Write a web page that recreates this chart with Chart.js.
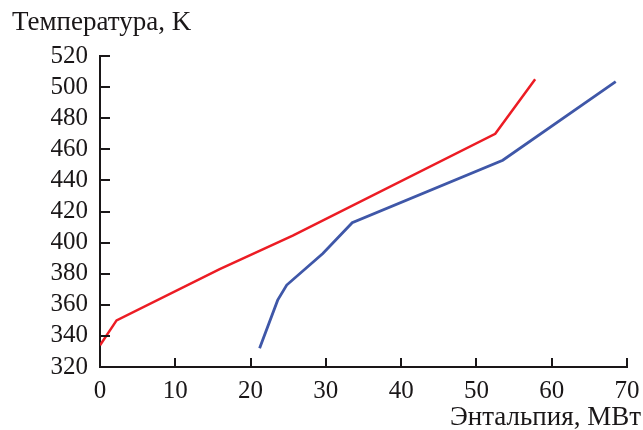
<!DOCTYPE html>
<html>
<head>
<meta charset="utf-8">
<script src="https://cdn.jsdelivr.net/npm/chart.js@4/dist/chart.umd.min.js"></script>
<style>
  html, body { margin: 0; padding: 0; background: #fff; }
  #wrap { width: 643px; height: 430px; }
</style>
</head>
<body>
<div id="wrap"><canvas id="chart" width="643" height="430"></canvas></div>
<script>
const redH = [0, 2.2, 15.9, 25.6, 52.5, 57.8];
const redT = [334, 350, 383, 404.5, 470, 505];
const blueH = [21.2, 23.6, 24.8, 29.6, 33.5, 53.5, 68.5];
const blueT = [332, 363, 372.7, 393, 412.8, 453, 503.5];
const xTicks = [0, 10, 20, 30, 40, 50, 60, 70];
const yTicks = [320, 340, 360, 380, 400, 420, 440, 460, 480, 500, 520];
const yTitle = "Температура, K";
const xTitle = "Энтальпия, МВт";

const FONT = "'Liberation Serif', 'Times New Roman', serif";
Chart.defaults.font.family = FONT;
Chart.defaults.font.size = 25;
Chart.defaults.color = "#1a1718";

function toPoints(xs, ys) {
    return xs.map((x, i) => ({ x: x, y: ys[i] }));
}

// ticks pointing into the plot area, plus the two axis titles
const innerTicks = {
    id: "innerTicks",
    afterDraw(chart) {
        const ctx = chart.ctx;
        const area = chart.chartArea;
        const xs = chart.scales.x;
        const ys = chart.scales.y;
        ctx.save();
        ctx.strokeStyle = "#1a1718";
        ctx.lineWidth = 2;
        ctx.beginPath();
        xTicks.forEach(v => {
            const px = Math.round(xs.getPixelForValue(v));
            ctx.moveTo(px, area.bottom);
            ctx.lineTo(px, area.bottom - 9);
        });
        yTicks.forEach(v => {
            const py = Math.round(ys.getPixelForValue(v));
            ctx.moveTo(area.left, py);
            ctx.lineTo(area.left + 10, py);
        });
        ctx.stroke();

        ctx.fillStyle = "#1a1718";
        ctx.font = "27px " + FONT;
        ctx.textBaseline = "alphabetic";
        ctx.textAlign = "left";
        ctx.fillText(yTitle, 12, 30);
        ctx.textAlign = "right";
        ctx.fillText(xTitle, 641, 425);
        ctx.restore();
    }
};

new Chart(document.getElementById("chart"), {
    type: "line",
    data: {
        datasets: [
            {
                data: toPoints(redH, redT),
                borderColor: "#ec1c24",
                borderWidth: 2.5,
                pointRadius: 0,
                tension: 0
            },
            {
                data: toPoints(blueH, blueT),
                borderColor: "#3f57a8",
                borderWidth: 2.8,
                pointRadius: 0,
                tension: 0
            }
        ]
    },
    options: {
        responsive: false,
        animation: false,
        layout: { padding: { top: 56, right: 16, left: 0, bottom: 0 } },
        plugins: {
            legend: { display: false },
            tooltip: { enabled: false }
        },
        scales: {
            x: {
                type: "linear",
                min: 0,
                max: 70,
                afterFit: s => {
                    s.height = 63;
                    s.paddingLeft = 0;
                    s.paddingRight = 0;
                },
                afterBuildTicks: s => { s.ticks = xTicks.map(v => ({ value: v })); },
                grid: { display: false, drawTicks: false },
                border: { display: true, color: "#1a1718", width: 2 },
                ticks: { padding: 9, maxRotation: 0, autoSkip: false }
            },
            y: {
                type: "linear",
                min: 320,
                max: 520,
                afterFit: s => { s.width = 100; },
                afterBuildTicks: s => { s.ticks = yTicks.map(v => ({ value: v })); },
                grid: { display: false, drawTicks: false },
                border: { display: true, color: "#1a1718", width: 2 },
                ticks: { padding: 12, autoSkip: false }
            }
        }
    },
    plugins: [innerTicks]
});
</script>
</body>
</html>
